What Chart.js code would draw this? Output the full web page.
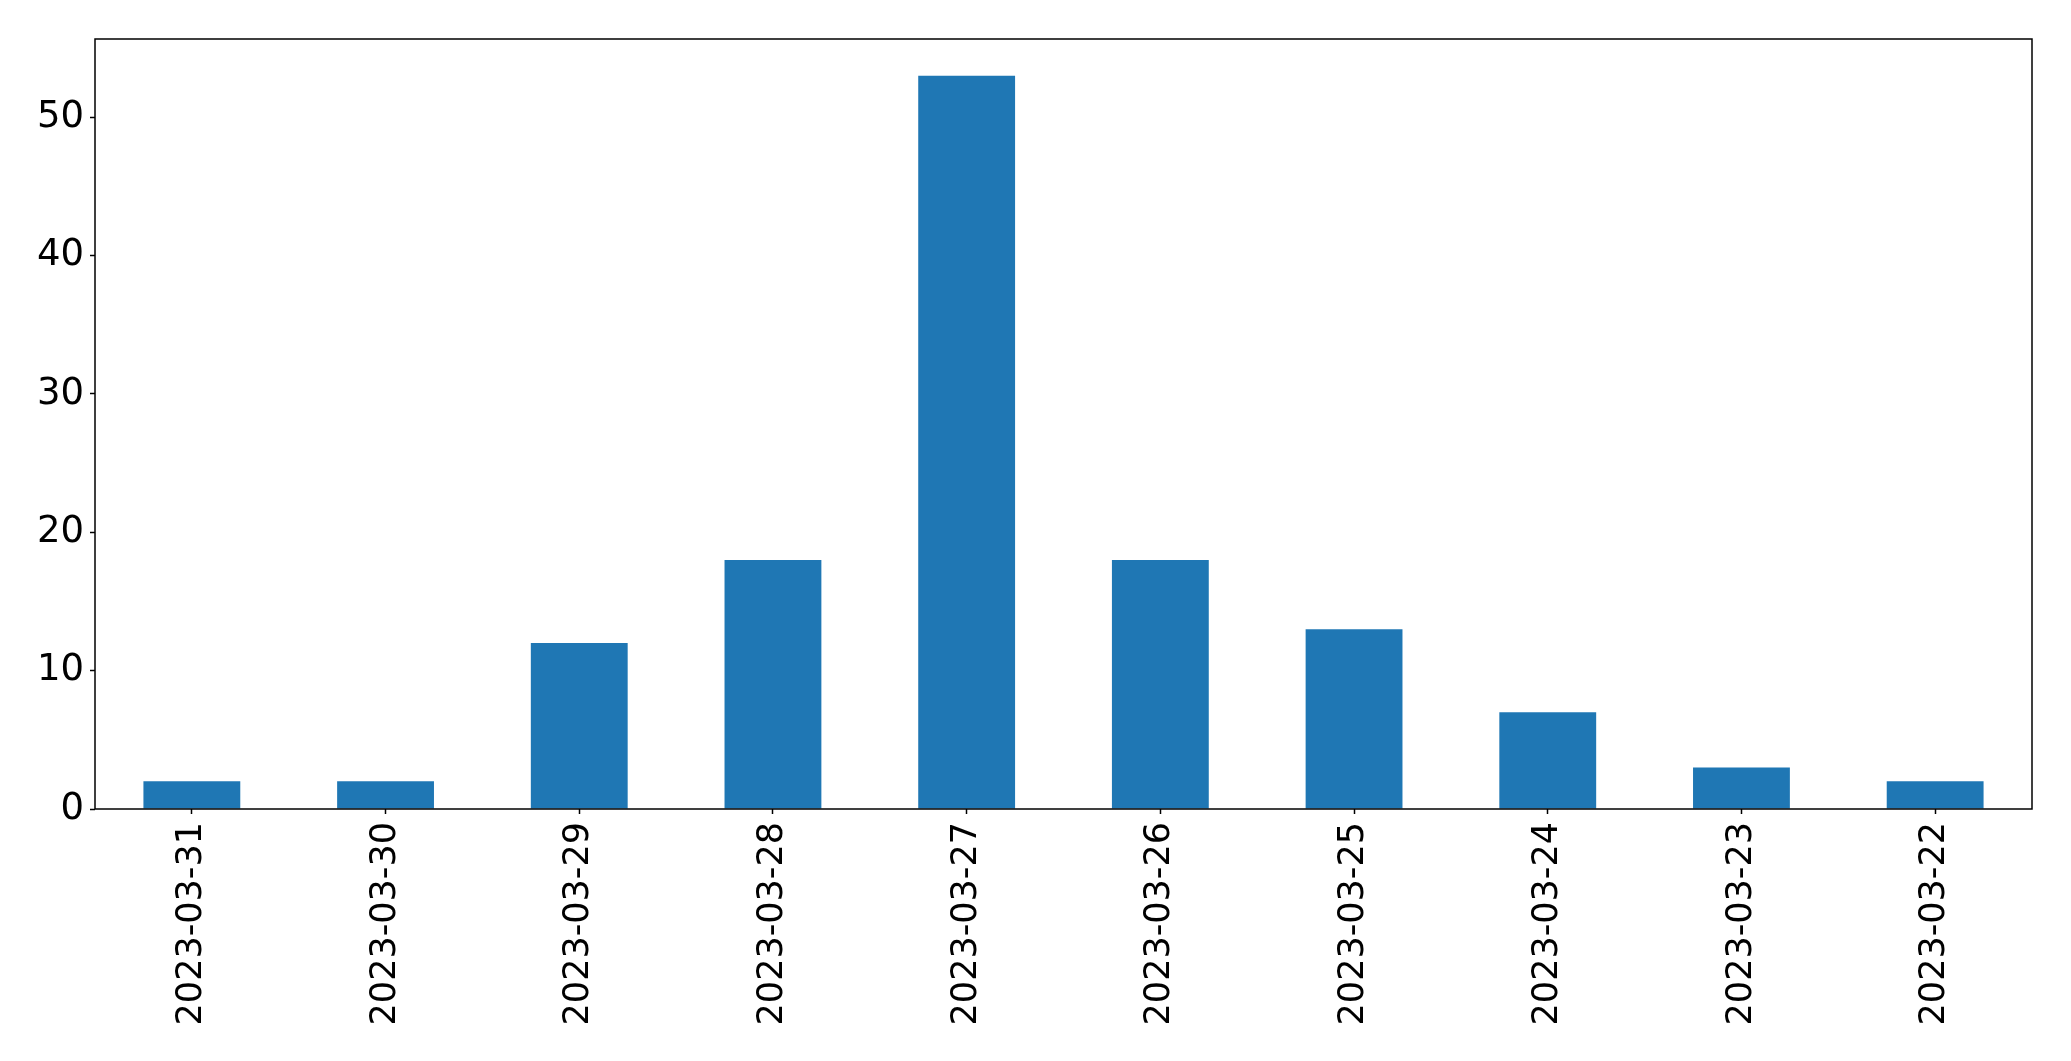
<!DOCTYPE html>
<html>
<head>
<meta charset="utf-8">
<script src="https://cdn.jsdelivr.net/npm/chart.js@4.4.0/dist/chart.umd.min.js"></script>
<style>
  html, body { margin: 0; padding: 0; background: #fff; }
  #wrap { width: 2071px; height: 1061px; }
</style>
</head>
<body>
<div id="wrap"><canvas id="chart"></canvas></div>
<script>
const dates = ["2023-03-31", "2023-03-30", "2023-03-29", "2023-03-28", "2023-03-27",
               "2023-03-26", "2023-03-25", "2023-03-24", "2023-03-23", "2023-03-22"];
const counts = [2, 2, 12, 18, 53, 18, 13, 7, 3, 2];
const yTicks = [0, 10, 20, 30, 40, 50];

const FONT = "'DejaVu Sans', sans-serif";

// box around the plot area, like matplotlib spines
const frame = {
  id: "frame",
  afterDraw(chart) {
    const a = chart.chartArea, c = chart.ctx;
    c.save();
    c.strokeStyle = "#000";
    c.lineWidth = 1.5;
    c.strokeRect(a.left, a.top, a.right - a.left, a.bottom - a.top);
    c.restore();
  }
};

new Chart(document.getElementById("chart"), {
  type: "bar",
  data: {
    labels: dates,
    datasets: [{
      data: counts,
      backgroundColor: "#1f77b4",
      barPercentage: 0.5,
      categoryPercentage: 1.0
    }]
  },
  options: {
    responsive: true,
    maintainAspectRatio: false,
    animation: false,
    layout: { padding: { top: 39, right: 39, left: 0, bottom: 0 } },
    plugins: { legend: { display: false }, tooltip: { enabled: false } },
    scales: {
      x: {
        grid: { display: true, offset: false, drawOnChartArea: false, drawTicks: true, tickLength: 5, tickColor: "#000", tickWidth: 1.5 },
        border: { display: false },
        ticks: {
          color: "#000", font: { family: FONT, size: 35 },
          maxRotation: 90, minRotation: 90, padding: 8, autoSkip: false
        },
        afterFit(s) { s.height = 252; }
      },
      y: {
        min: 0, max: 55.65,
        grid: { display: true, drawOnChartArea: false, drawTicks: true, tickLength: 5, tickColor: "#000", tickWidth: 1.5 },
        border: { display: false },
        ticks: { color: "#000", font: { family: FONT, size: 37 }, stepSize: 10, padding: 6 },
        afterBuildTicks(s) { s.ticks = yTicks.map(v => ({ value: v })); },
        afterFit(s) { s.width = 95; }
      }
    }
  },
  plugins: [frame]
});
</script>
</body>
</html>
